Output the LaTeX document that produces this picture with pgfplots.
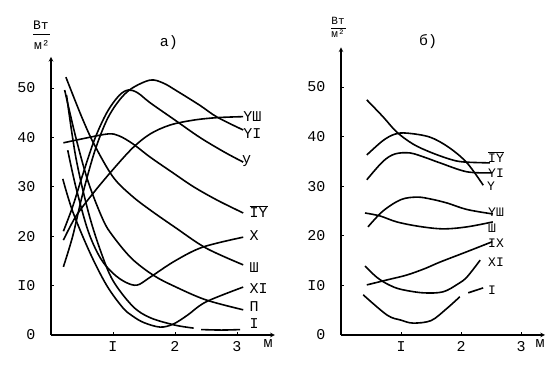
\documentclass[border=0pt]{standalone}
\usepackage{fontspec}
\setmainfont{Liberation Mono}
\usepackage{pgfplots}
\pgfplotsset{compat=1.18}
\pgfplotsset{panel/.style={
  axis lines=left,
  axis line style={line width=1.1pt, -stealth},
  anchor=south west,
  xmin=0, ymin=0,
  xtick={1,2,3}, xticklabels={I,2,3},
  ytick={0,10,20,30,40,50}, yticklabels={0,I0,20,30,40,50},
  tick style={black, line width=0.8pt},
  major tick length=3pt,
  tick align=inside,
  /pgf/number format/assume math mode=true,
  tick label style={font=\fontsize{15}{17}\selectfont},
  yticklabel style={xshift=-12pt},
  xticklabel style={yshift=-3pt},
  clip=false,
},
curve/.style={line width=1.6pt, black, smooth, tension=0.55, mark=none, solid}}
\newcommand{\IV}{\ensuremath{\overline{\mbox{IY}}}}
\begin{document}
\begin{tikzpicture}[font=\fontsize{15}{17}\selectfont]
\useasboundingbox (0,0) rectangle (558pt,380pt);
% ---------------- panel a)
\begin{axis}[panel, at={(51pt,45pt)}, x=62pt, y=4.94pt, xmax=3.61, ymax=56.3]
% VIII
\addplot[curve] coordinates {(0.2,19.2)(0.4,24)(0.68,28.7)(1.0,33.5)(1.32,37.9)(1.6,40.7)(1.92,42.5)(2.3,43.5)(2.68,44)(3.1,44.2)};
% VI
\addplot[curve] coordinates {(0.2,13.8)(0.35,20)(0.5,28)(0.7,37)(0.9,43.5)(1.1,47.5)(1.3,49.9)(1.6,51.6)(1.81,51)(2.03,49.4)(2.4,46.5)(2.68,44.1)(3.1,41.5)};
% V
\addplot[curve] coordinates {(0.2,21)(0.35,26)(0.5,32)(0.7,39.5)(0.9,45)(1.1,48.5)(1.25,49.6)(1.4,49)(1.6,47)(2.0,43.5)(2.4,40)(2.8,37)(3.1,35)};
% IV
\addplot[curve] coordinates {(0.2,38.9)(0.5,39.7)(0.92,40.7)(1.1,40.3)(1.32,38.7)(1.6,36)(1.97,32.8)(2.3,30)(2.68,27.3)(3.1,24.7)};
% III
\addplot[curve] coordinates {(0.24,52.2)(0.5,44)(0.7,38.5)(1.0,32)(1.3,28.2)(1.6,25.3)(2.0,21.8)(2.5,17.6)(3.1,14.2)};
% X
\addplot[curve] coordinates {(0.27,37.4)(0.4,30)(0.6,21)(0.8,15.5)(1.0,12.5)(1.2,10.7)(1.39,10.1)(1.6,11.7)(2.0,15)(2.45,17.8)(3.1,19.8)};
% II
\addplot[curve] coordinates {(0.22,49.6)(0.4,40)(0.6,31)(0.84,23.3)(1.0,20)(1.3,15.5)(1.65,12.1)(2.0,9.8)(2.5,7.1)(3.1,5.1)};
% XI
\addplot[curve] coordinates {(0.19,31.6)(0.35,25)(0.63,16.6)(0.9,10)(1.16,5.5)(1.32,3.8)(1.5,2.5)(1.76,1.6)(1.97,2.2)(2.2,4)(2.5,6.7)(3.1,9.7)};
% I
\addplot[curve] coordinates {(0.25,48.6)(0.4,36)(0.6,25)(0.8,17)(1.0,11)(1.32,5.8)(1.6,3.5)(2.0,2)(2.3,1.4)};
\addplot[curve] coordinates {(2.42,1.1)(2.75,1.0)(3.05,1.1)};
% labels
\node[anchor=west,inner sep=0pt] at (axis cs:3.1,44.3) {YШ};
\node[anchor=west,inner sep=0pt] at (axis cs:3.1,40.8) {YI};
\node[anchor=west,inner sep=0pt] at (axis cs:3.08,35.2) {у};
\node[anchor=west,inner sep=0pt] at (axis cs:3.2,24.9) {\IV};
\node[anchor=west,inner sep=0pt] at (axis cs:3.2,20.2) {X};
\node[anchor=west,inner sep=0pt] at (axis cs:3.2,13.6) {Ш};
\node[anchor=west,inner sep=0pt] at (axis cs:3.2,9.5) {XI};
\node[anchor=west,inner sep=0pt] at (axis cs:3.2,5.7) {П};
\node[anchor=west,inner sep=0pt] at (axis cs:3.2,2.4) {I};
\end{axis}
% ---------------- panel b)
\begin{axis}[panel, at={(341pt,45pt)}, x=60pt, y=4.96pt, xmax=3.4, ymax=58]
% IV
\addplot[curve] coordinates {(0.43,47.4)(0.7,44)(0.93,40.9)(1.2,38.5)(1.48,36.9)(1.8,35.5)(2.03,34.9)(2.48,34.7)};
% V
\addplot[curve] coordinates {(0.43,36.3)(0.7,39.2)(0.9,40.5)(1.1,40.7)(1.48,39.9)(1.8,37.8)(2.1,34.7)(2.37,30.2)};
% VI
\addplot[curve] coordinates {(0.43,31.3)(0.7,35)(0.9,36.5)(1.15,36.7)(1.4,35.8)(1.65,34.7)(2.1,32.9)(2.52,32.7)};
% VIII
\addplot[curve] coordinates {(0.45,21.8)(0.7,25)(1.0,27.3)(1.27,27.8)(1.5,27.4)(1.77,26.6)(2.1,25.3)(2.53,24.4)};
% III
\addplot[curve] coordinates {(0.4,24.6)(0.65,24)(0.93,22.8)(1.3,21.9)(1.7,21.4)(2.1,21.8)(2.53,22.8)};
% IX
\addplot[curve] coordinates {(0.43,10.1)(0.8,11.2)(1.1,12.1)(1.4,13.4)(1.65,14.7)(2.1,16.8)(2.52,18.8)};
% XI
\addplot[curve] coordinates {(0.4,13.9)(0.6,11.6)(0.8,10.1)(1.0,9.2)(1.37,8.5)(1.7,8.7)(1.95,10.3)(2.1,11.7)(2.32,15.1)};
% I
\addplot[curve] coordinates {(0.37,8.1)(0.77,4.0)(1.0,3.0)(1.2,2.4)(1.5,2.9)(1.75,5.2)(1.98,7.7)};
\addplot[curve] coordinates {(2.12,8.5)(2.37,9.5)};
% labels
\node[anchor=west,inner sep=0pt,font=\fontsize{13}{14}\selectfont] at (axis cs:2.45,35.9) {\IV};
\node[anchor=west,inner sep=0pt,font=\fontsize{13}{14}\selectfont] at (axis cs:2.45,32.7) {YI};
\node[anchor=west,inner sep=0pt,font=\fontsize{13}{14}\selectfont] at (axis cs:2.43,29.9) {Y};
\node[anchor=west,inner sep=0pt,font=\fontsize{13}{14}\selectfont] at (axis cs:2.45,24.8) {YШ};
\node[anchor=west,inner sep=0pt,font=\fontsize{13}{14}\selectfont] at (axis cs:2.45,21.6) {Ш};
\node[anchor=west,inner sep=0pt,font=\fontsize{13}{14}\selectfont] at (axis cs:2.45,18.5) {IX};
\node[anchor=west,inner sep=0pt,font=\fontsize{13}{14}\selectfont] at (axis cs:2.45,14.7) {XI};
\node[anchor=west,inner sep=0pt,font=\fontsize{13}{14}\selectfont] at (axis cs:2.45,9.1) {I};
\end{axis}
% titles and units
\node at (169pt,337pt) {а)};
\node at (428pt,338pt) {б)};
\node[font=\fontsize{13}{14}\selectfont, inner sep=0pt] at (41pt,355pt) {Вт};
\draw[line width=1pt] (33pt,345pt) -- (50pt,345pt);
\node[font=\fontsize{13}{14}\selectfont, inner sep=0pt] at (42pt,335pt) {м²};
\node[font=\fontsize{11}{12}\selectfont, inner sep=0pt] at (338pt,359pt) {Вт};
\draw[line width=0.8pt] (331pt,352pt) -- (346pt,352pt);
\node[font=\fontsize{11}{12}\selectfont, inner sep=0pt] at (338pt,346pt) {м²};
\node at (268pt,36pt) {м};
\node at (540pt,36pt) {м};
\end{tikzpicture}
\end{document}
